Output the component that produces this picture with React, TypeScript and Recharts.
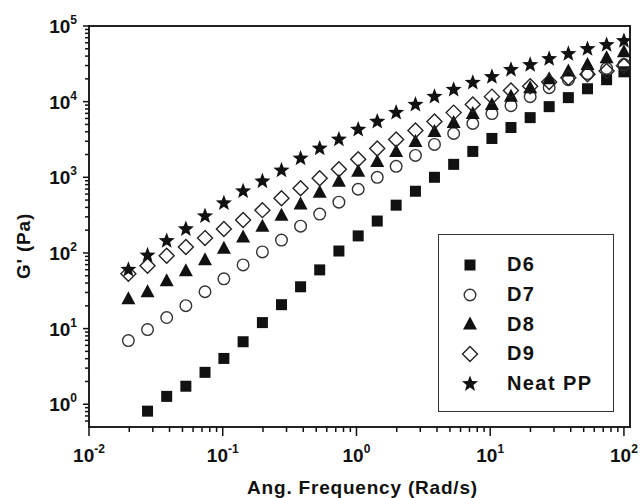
import React from "react";
import { ScatterChart, Scatter, XAxis, YAxis, ReferenceArea, Legend } from "recharts";

// angular frequency sweep (rad/s)
const FREQ = [
  0.0197, 0.0274, 0.0381, 0.053, 0.0737, 0.102, 0.142, 0.198, 0.275, 0.382,
  0.531, 0.739, 1.03, 1.43, 1.98, 2.76, 3.83, 5.33, 7.41, 10.3, 14.3, 19.9,
  27.6, 38.4, 53.4, 74.2, 100,
];

// G' (Pa) per sample; D6 starts at the second frequency
const D6 = [
  0.81, 1.27, 1.73, 2.64, 4.03, 6.7, 12, 20.7, 35.7, 59.7, 106, 168, 264, 428,
  654, 1000, 1483, 2198, 3260, 4550, 6150, 8590, 11300, 14800, 19500, 24800,
];
const D7 = [
  6.95, 9.7, 14, 20.1, 30.7, 45.5, 69.5, 103, 148, 226, 326, 469, 695, 1000,
  1396, 1946, 2716, 3793, 5140, 6950, 8850, 11650, 15300, 19500, 23500, 27500,
  31000,
];
const D8 = [
  24.8, 30.7, 42.8, 58, 81, 115, 163, 226, 316, 442, 635, 886, 1200, 1620, 2200,
  2980, 4030, 5300, 6950, 9140, 11800, 15300, 20000, 25500, 31000, 38000, 45500,
];
const D9 = [
  53, 67.5, 91.5, 120, 157, 207, 272, 368, 530, 716, 970, 1274, 1726, 2410,
  3160, 4150, 5460, 7160, 9140, 11650, 14000, 16000, 18200, 20700, 23000, 25500,
  29800,
];
const NEAT_PP = [
  60, 93, 144, 207, 307, 455, 654, 886, 1236, 1778, 2410, 3160, 4280, 5460,
  7160, 9140, 11650, 14400, 17800, 21300, 26400, 30700, 36800, 42900, 49800,
  56200, 63500,
];

const X_MAJOR = [0.01, 0.1, 1, 10, 100];
const X_EXP = ["-2", "-1", "0", "1", "2"];
const Y_MAJOR = [1, 10, 100, 1000, 10000, 100000];
const Y_EXP = ["0", "1", "2", "3", "4", "5"];
const MINOR_STEPS = [2, 3, 4, 5, 6, 7, 8, 9];

const X_TICKS = [
  ...X_MAJOR,
  ...X_MAJOR.slice(0, -1).flatMap((d) => MINOR_STEPS.map((m) => +(d * m).toPrecision(3))),
].sort((a, b) => a - b);
const Y_TICKS = [
  0.6, 0.7, 0.8, 0.9,
  ...Y_MAJOR,
  ...Y_MAJOR.slice(0, -1).flatMap((d) => MINOR_STEPS.map((m) => +(d * m).toPrecision(3))),
].sort((a, b) => a - b);

const FONT = "'Liberation Sans', Arial, sans-serif";
const INK = "#111";

function toPoints(vals: number[], startIdx: number) {
  return vals.map((y, i) => ({ x: FREQ[i + startIdx], y }));
}

type Kind = "square" | "circle" | "triangle" | "diamond" | "star";

function Marker({ kind, cx, cy }: { kind: Kind; cx: number; cy: number }) {
  if (kind === "square") {
    return <rect x={cx - 5.5} y={cy - 5.5} width={11} height={11} fill={INK} />;
  }
  if (kind === "circle") {
    return <circle cx={cx} cy={cy} r={5.8} fill="none" stroke="#333" strokeWidth={1.4} />;
  }
  if (kind === "triangle") {
    return (
      <polygon
        points={`${cx},${cy - 7.5} ${cx + 7},${cy + 5.5} ${cx - 7},${cy + 5.5}`}
        fill={INK}
      />
    );
  }
  if (kind === "diamond") {
    return (
      <polygon
        points={`${cx},${cy - 7.5} ${cx + 7.5},${cy} ${cx},${cy + 7.5} ${cx - 7.5},${cy}`}
        fill="none"
        stroke="#222"
        strokeWidth={1.4}
      />
    );
  }
  const pts: string[] = [];
  for (let i = 0; i < 10; i++) {
    const r = i % 2 === 0 ? 8.5 : 3.6;
    const a = -Math.PI / 2 + (i * Math.PI) / 5;
    pts.push(`${cx + r * Math.cos(a)},${cy + r * Math.sin(a)}`);
  }
  return <polygon points={pts.join(" ")} fill={INK} />;
}

const SERIES: { name: string; kind: Kind; data: { x: number; y: number }[] }[] = [
  { name: "D6", kind: "square", data: toPoints(D6, 1) },
  { name: "D7", kind: "circle", data: toPoints(D7, 0) },
  { name: "D8", kind: "triangle", data: toPoints(D8, 0) },
  { name: "D9", kind: "diamond", data: toPoints(D9, 0) },
  { name: "Neat PP", kind: "star", data: toPoints(NEAT_PP, 0) },
];

function XTick(props: any) {
  const { x, y, payload } = props;
  const idx = X_MAJOR.indexOf(payload.value);
  const major = idx >= 0;
  return (
    <g>
      <line x1={x} x2={x} y1={y} y2={y + (major ? 9 : 5)} stroke={INK} strokeWidth={1.5} />
      {major && (
        <text x={x} y={y + 35} textAnchor="middle" fontFamily={FONT} fontWeight="bold" fontSize={19} fill={INK}>
          10
          <tspan dy={-9} fontSize={12}>{X_EXP[idx]}</tspan>
        </text>
      )}
    </g>
  );
}

function YTick(props: any) {
  const { x, y, payload } = props;
  const idx = Y_MAJOR.indexOf(payload.value);
  const major = idx >= 0;
  return (
    <g>
      <line x1={x} x2={x - (major ? 6 : 4)} y1={y} y2={y} stroke={INK} strokeWidth={1.5} />
      {major && (
        <text x={x - 12} y={y + 7} textAnchor="end" fontFamily={FONT} fontWeight="bold" fontSize={19} fill={INK}>
          10
          <tspan dy={-9} fontSize={12}>{Y_EXP[idx]}</tspan>
        </text>
      )}
    </g>
  );
}

function LegendBox() {
  return (
    <div
      style={{
        width: 176,
        height: 178,
        boxSizing: "border-box",
        border: "1.5px solid #333",
        background: "#fff",
        paddingTop: 15,
      }}
    >
      {SERIES.map((s) => (
        <div key={s.name} style={{ display: "flex", alignItems: "center", height: 29.7 }}>
          <svg width={62} height={20} style={{ flex: "none" }}>
            <Marker kind={s.kind} cx={31} cy={10} />
          </svg>
          <span
            style={{
              marginLeft: 6,
              fontFamily: FONT,
              fontWeight: "bold",
              fontSize: 20,
              letterSpacing: 1.4,
              color: INK,
            }}
          >
            {s.name}
          </span>
        </div>
      ))}
    </div>
  );
}

export default function App() {
  return (
    <div style={{ width: 641, height: 498, background: "#fff" }}>
      <style>{"body{margin:0}"}</style>
      <ScatterChart width={641} height={498} margin={{ top: 26, right: 11, bottom: 0, left: 0 }}>
        <XAxis
          type="number"
          dataKey="x"
          scale="log"
          domain={[0.01, 111]}
          allowDataOverflow
          ticks={X_TICKS}
          interval={0}
          tick={<XTick />}
          tickLine={false}
          tickSize={0}
          tickMargin={0}
          axisLine={false}
          height={71}
          label={{
            content: ({ viewBox }: any) => (
              <text
                x={viewBox.x + viewBox.width / 2 + 3}
                y={494}
                textAnchor="middle"
                fontFamily={FONT}
                fontWeight="bold"
                fontSize={19}
                letterSpacing={0.8}
                fill={INK}
              >
                Ang. Frequency (Rad/s)
              </text>
            ),
          }}
        />
        <YAxis
          type="number"
          dataKey="y"
          scale="log"
          domain={[0.5, 100000]}
          allowDataOverflow
          ticks={Y_TICKS}
          interval={0}
          tick={<YTick />}
          tickLine={false}
          tickSize={0}
          tickMargin={0}
          axisLine={false}
          width={89}
          label={{
            content: () => (
              <text
                transform="translate(30, 246) rotate(-90)"
                textAnchor="middle"
                fontFamily={FONT}
                fontWeight="bold"
                fontSize={19}
                letterSpacing={0.8}
                fill={INK}
              >
                G' (Pa)
              </text>
            ),
          }}
        />
        <ReferenceArea
          x1={0.01}
          x2={111}
          y1={0.5}
          y2={100000}
          fill="none"
          stroke="#222"
          strokeWidth={2}
          ifOverflow="visible"
        />
        {SERIES.map((s) => (
          <Scatter
            key={s.name}
            name={s.name}
            data={s.data}
            isAnimationActive={false}
            shape={(p: any) => <Marker kind={s.kind} cx={p.cx} cy={p.cy} />}
          />
        ))}
        <Legend
          layout="vertical"
          align="center"
          verticalAlign="middle"
          wrapperStyle={{ left: 438, top: 234, width: 176, height: 178 }}
          content={() => <LegendBox />}
        />
      </ScatterChart>
    </div>
  );
}
